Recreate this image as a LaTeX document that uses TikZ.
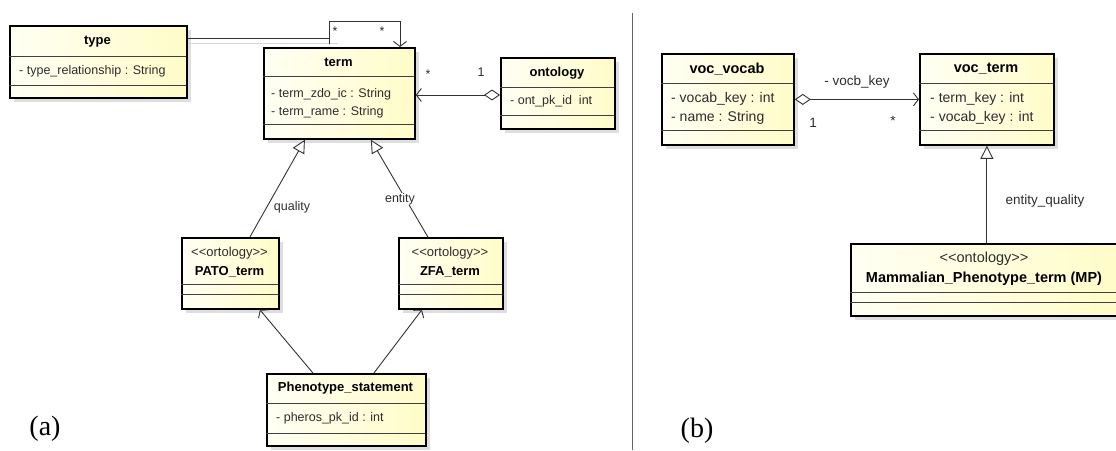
\documentclass[tikz,border=0pt]{standalone}
\usepackage{fontspec}
\setmainfont{Liberation Sans}
\newfontfamily\capfont{Liberation Serif}
\usetikzlibrary{shadows,arrows.meta}
\definecolor{boxl}{RGB}{255,255,244}
\definecolor{boxr}{RGB}{255,252,200}
\definecolor{txtc}{RGB}{45,45,45}
\newcommand{\stlt}{<\kern0pt<}
\newcommand{\stgt}{>\kern0pt>}
\newcommand{\umlclass}[7]{%
  \node[classbox, minimum width={(#4-#2)*1pt}, minimum height={(#5-#3)*1pt}] (#1) at (#2,#3) {};
  \draw[divline] (#2,#6) -- (#4,#6);
  \draw[divline] (#2,#7) -- (#4,#7);
}
\begin{document}
\begin{tikzpicture}[x=1pt,y=-1pt,
  classbox/.style={draw=black, line width=1.8pt, left color=boxl, right color=boxr,
    drop shadow={shadow xshift=4pt, shadow yshift=-4pt, fill=black!13, opacity=1},
    inner sep=0pt, anchor=north west},
  divline/.style={draw=black!75, line width=0.7pt},
  cnameL/.style={font=\bfseries\fontsize{13}{15}\selectfont, inner sep=0pt},
  attrL/.style={font=\fontsize{12.5}{15}\selectfont, anchor=west, inner sep=0pt, text=txtc},
  stereoL/.style={font=\fontsize{13}{15}\selectfont, inner sep=0pt, text=txtc},
  cnameR/.style={font=\bfseries\fontsize{14.5}{17}\selectfont, inner sep=0pt},
  attrR/.style={font=\fontsize{14}{17}\selectfont, anchor=west, inner sep=0pt, text=txtc},
  stereoR/.style={font=\fontsize{14.5}{17}\selectfont, inner sep=0pt, text=txtc},
  lbl/.style={font=\fontsize{12.5}{15}\selectfont, inner sep=0pt, text=txtc},
  lblR/.style={font=\fontsize{13.5}{16}\selectfont, inner sep=0pt, text=txtc},
  conn/.style={draw=black!80, line width=0.9pt},
  openhead/.style={-{Straight Barb[length=5pt,width=13pt,line width=0.9pt]}},
  inherit/.style={-{Triangle[open,length=13pt,width=13pt,fill=white,line width=0.9pt]}},
  aggr/.style={{Diamond[open,length=16pt,width=11pt,fill=white,line width=0.9pt]}-{Straight Barb[length=5pt,width=13pt,line width=0.9pt]}},
  panel/.style={font=\capfont\fontsize{28}{31}\selectfont, inner sep=0pt}
]
\useasboundingbox[fill=white] (0,0) rectangle (1116,450);

% separator
\coordinate (sepTop) at (632,13);
\coordinate (sepBot) at (632,450);
\draw[black!60, line width=0.9pt] (sepTop) -- (sepBot);

% ---------- (a) ----------
\umlclass{type}{9}{25}{186}{97}{56}{85}
\node[cnameL] (typeN) at (97.5,42) {type};
\node[attrL] (typeA) at (19,71) {- type\_relationship : String};

\umlclass{term}{263}{47}{414}{138}{76}{124}
\node[cnameL] (termN) at (338.5,62) {term};
\node[attrL] (termA1) at (271,94) {- term\_zdo\_ic : String};
\node[attrL] (termA2) at (271,112) {- term\_rame : String};

\umlclass{ontology}{500}{57}{614}{128}{87}{115}
\node[cnameL] (ontN) at (557,73) {ontology};
\node[attrL] (ontA) at (510,101) {- ont\_pk\_id\ \ int};

\umlclass{pato}{181}{237}{278}{308}{284}{294}
\node[stereoL] (patoS) at (229.5,253) {\stlt ortology\stgt};
\node[cnameL] (patoN) at (229.5,272) {PATO\_term};

\umlclass{zfa}{398}{237}{502}{308}{284}{294}
\node[stereoL] (zfaS) at (450,253) {\stlt ortology\stgt};
\node[cnameL] (zfaN) at (450,272) {ZFA\_term};

\umlclass{pheno}{266}{373}{425}{445}{403}{433}
\node[cnameL] (phenoN) at (345.5,388) {Phenotype\_statement};
\node[attrL] (phenoA) at (276,418) {- pheros\_pk\_id : int};

% type -- term (self association loop)
\coordinate (tA) at (329,38);
\coordinate (tB) at (338,43);
\coordinate (lpS) at (329,44);
\coordinate (lp1) at (329,21);
\coordinate (lp2) at (400,21);
\draw[black!15, line width=0.9pt] (type.east |- tB) -- (tB);
\draw[conn] (type.east |- tA) -- (tA);
\draw[conn, openhead] (lpS) -- (lp1) -- (lp2) -- (lp2 |- term.north);
\node[lbl] (m1) at (335,31) {*};
\node[lbl] (m2) at (382,31) {*};

% ontology -- term aggregation
\coordinate (oy) at (0,95);
\draw[conn, aggr] (ontology.west |- oy) -- (term.east |- oy);
\node[lbl] (m3) at (428,74) {*};
\node[lbl] (m4) at (481,72) {1};

% inheritance
\draw[conn, inherit] ([xshift=19.5pt]pato.north) -- ([xshift=-34.5pt]term.south);
\draw[conn, inherit] ([xshift=-23pt]zfa.north) -- ([xshift=31.5pt]term.south);
\node[lbl, fill=white, inner sep=0.5pt] (qual) at (292,207) {quality};
\node[lbl, fill=white, inner sep=0.5pt] (ent) at (400,199) {entity};

% phenotype statement associations
\draw[conn, openhead] ([xshift=-33.5pt]pheno.north) -- ([xshift=29.5pt]pato.south);
\draw[conn, openhead] ([xshift=27.5pt]pheno.north) -- ([xshift=-29pt]zfa.south);

\node[panel] (pa) at (45,429) {(a)};

% ---------- (b) ----------
\umlclass{vocab}{661}{53}{793}{144}{83}{130}
\node[cnameR] (vocabN) at (727,69) {voc\_vocab};
\node[attrR] (vocabA1) at (671,99) {- vocab\_key : int};
\node[attrR] (vocabA2) at (671,118) {- name : String};

\umlclass{vterm}{919}{53}{1053}{144}{83}{130}
\node[cnameR] (vtermN) at (986,69) {voc\_term};
\node[attrR] (vtermA1) at (930,99) {- term\_key : int};
\node[attrR] (vtermA2) at (930,118) {- vocab\_key : int};

\umlclass{mp}{850}{243}{1117}{315}{292}{302}
\node[stereoR] (mpS) at (984,259) {\stlt ontology\stgt};
\node[cnameR] (mpN) at (984,279) {Mammalian\_Phenotype\_term (MP)};

\draw[conn, aggr] (vocab.east) -- (vterm.west);
\node[lblR] (vk) at (857,82) {- vocb\_key};
\node[lblR] (m5) at (813,123) {1};
\node[lblR] (m6) at (893,121) {*};

\draw[conn, inherit] (vterm.south |- mp.north) -- (vterm.south);
\node[lblR] (eq) at (1045,201) {entity\_quality};

\node[panel] (pb) at (697,431) {(b)};
\end{tikzpicture}
\end{document}
